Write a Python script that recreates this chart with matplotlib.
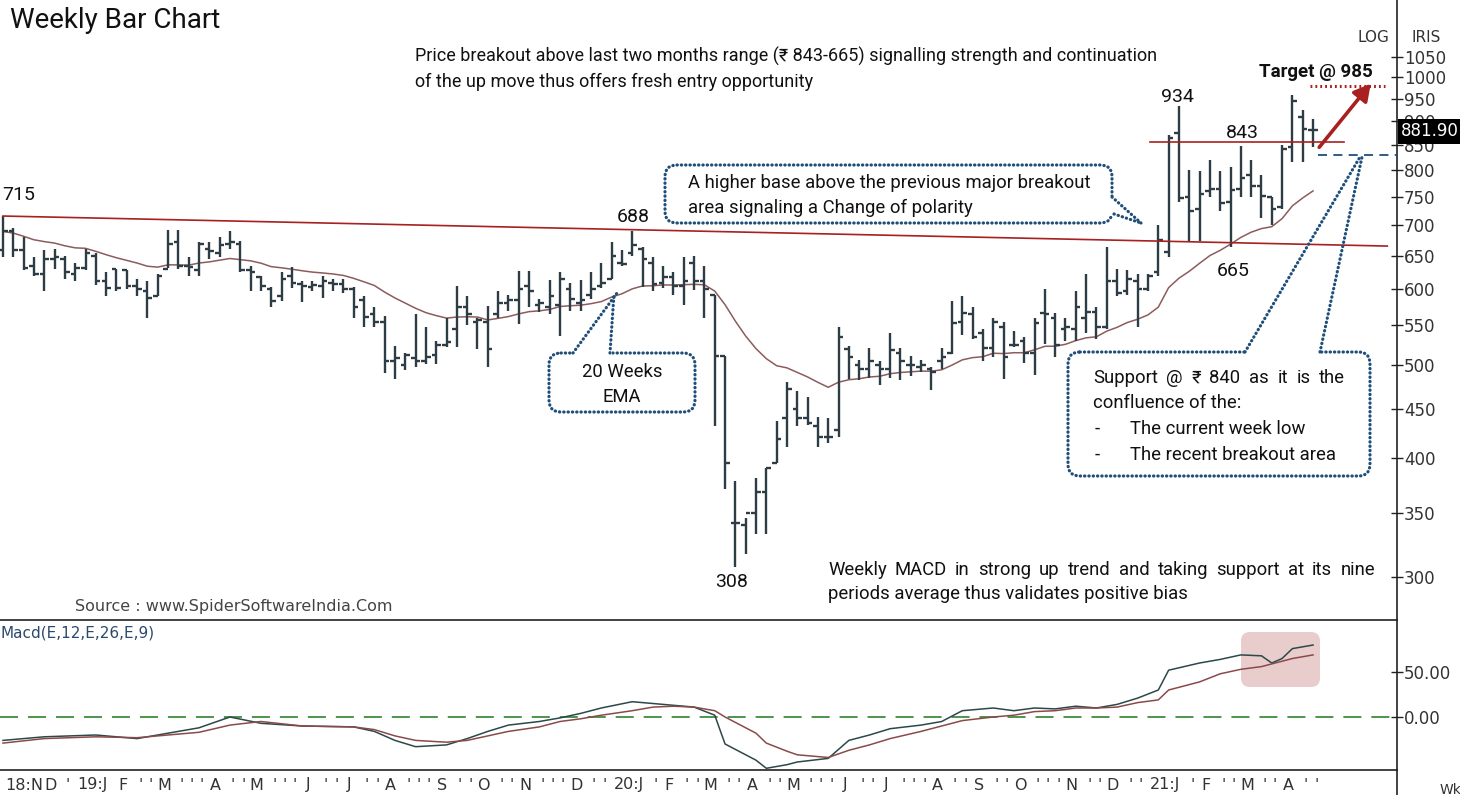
#!/usr/bin/env python3
"""Weekly bar chart with 20 week EMA and a MACD panel."""

import pandas as pd
import matplotlib
matplotlib.use("Agg")
from matplotlib import pyplot
from matplotlib.patches import FancyBboxPatch, FancyArrowPatch
from matplotlib.lines import Line2D
from matplotlib.transforms import Affine2D
from matplotlib.ticker import NullLocator

W, H = 1460, 795

# weekly OHLC, one entry per week (Nov 2018 .. Apr 2021)
HIGH = [716, 695, 680, 648, 660, 662, 650, 640, 662, 655, 625, 630, 628, 615, 612, 622,
        693, 693, 648, 672, 672, 680, 690, 675, 635, 620, 604, 625, 634, 612, 612, 620,
        615, 615, 604, 590, 575, 563, 524, 515, 565, 548, 530, 560, 605, 590, 560, 577,
        597, 592, 627, 627, 586, 613, 625, 610, 613, 625, 640, 672, 660, 690, 664, 648,
        635, 625, 648, 651, 635, 592, 511, 378, 346, 381, 390, 437, 480, 470, 463, 441,
        440, 548, 524, 506, 521, 505, 540, 521, 511, 506, 498, 521, 583, 590, 575, 545,
        560, 555, 543, 535, 560, 601, 567, 560, 597, 622, 575, 665, 630, 628, 622, 622,
        700, 870, 934, 800, 798, 820, 798, 805, 848, 820, 790, 750, 850, 958, 925, 905]
LOW = [648, 648, 628, 620, 597, 630, 615, 612, 628, 607, 590, 598, 600, 590, 560, 590,
       632, 630, 620, 620, 645, 648, 662, 625, 597, 597, 575, 583, 602, 582, 598, 588,
       598, 595, 560, 548, 548, 490, 483, 494, 498, 501, 501, 522, 522, 550, 520, 498,
       560, 570, 552, 575, 568, 566, 536, 570, 570, 586, 602, 615, 635, 650, 604, 597,
       602, 592, 578, 599, 560, 432, 371, 307, 317, 333, 333, 395, 410, 432, 433, 410,
       414, 420, 483, 482, 485, 477, 485, 482, 487, 492, 471, 495, 513, 537, 532, 505,
       510, 483, 522, 502, 488, 526, 510, 530, 530, 540, 532, 545, 590, 592, 548, 598,
       620, 648, 740, 672, 675, 750, 725, 665, 750, 750, 712, 700, 728, 815, 815, 845]
OPEN = [660, 690, 660, 635, 622, 645, 645, 622, 632, 650, 612, 630, 628, 605, 598, 590,
        630, 672, 635, 628, 662, 655, 670, 670, 628, 618, 600, 590, 620, 608, 604, 605,
        610, 608, 600, 585, 565, 555, 505, 500, 508, 505, 512, 525, 545, 575, 555, 555,
        565, 580, 585, 605, 578, 575, 578, 600, 580, 592, 605, 615, 640, 655, 662, 640,
        610, 618, 605, 640, 612, 592, 511, 342, 340, 350, 368, 395, 440, 450, 440, 432,
        420, 428, 520, 500, 495, 500, 495, 515, 500, 498, 495, 505, 515, 555, 565, 540,
        521, 548, 525, 530, 515, 567, 560, 545, 545, 560, 568, 548, 612, 598, 612, 600,
        625, 657, 875, 750, 728, 760, 765, 740, 765, 790, 770, 750, 732, 845, 910, 880]
CLOSE = [690, 660, 632, 622, 645, 648, 625, 632, 655, 612, 602, 602, 605, 600, 588, 620,
         670, 635, 633, 670, 658, 668, 672, 628, 625, 605, 583, 615, 610, 605, 606, 612,
         608, 600, 575, 562, 555, 505, 508, 512, 505, 510, 525, 528, 575, 565, 558, 520,
         580, 585, 600, 598, 580, 590, 615, 586, 585, 600, 610, 650, 638, 668, 645, 608,
         618, 605, 612, 612, 600, 511, 395, 342, 350, 368, 390, 418, 472, 440, 435, 420,
         420, 535, 510, 495, 505, 495, 518, 505, 500, 500, 492, 510, 553, 567, 535, 521,
         555, 510, 525, 515, 553, 565, 525, 548, 575, 568, 548, 612, 595, 615, 600, 620,
         676, 865, 748, 725, 755, 765, 738, 762, 785, 770, 752, 728, 842, 945, 882, 881.9]

# MACD(12,26,9) and its signal line, read at these weeks
MACD_WEEK = [0, 4, 9, 13, 19, 22, 25, 29, 34, 36, 38, 40, 43, 45, 47, 49, 52, 54, 56, 58,
             61, 63, 65, 67, 69, 70, 73, 74, 76, 77, 80, 82, 84, 86, 89, 91, 93, 96, 98, 100,
             102, 104, 106, 108, 110, 112, 113, 116, 118, 120, 122, 123, 124, 125, 127]
MACD = [-26, -22, -20, -24, -12, 0, -7, -10, -11, -16, -26, -33, -31, -24, -16, -9, -5, -1, 4, 10,
        17, 15, 13, 11, 2, -30, -48, -57, -53, -50, -46, -26, -20, -13, -9, -5, 7, 10, 7, 10,
        9, 12, 10, 14, 21, 30, 52, 60, 64, 69, 68, 60, 65, 76, 80]
SIGNAL = [-29, -24, -22, -23, -17, -9, -5, -10, -11, -14, -21, -26, -28, -26, -21, -16, -11, -5, -2, 2,
          7, 11, 12, 11, 7, 0, -18, -29, -38, -42, -45, -37, -31, -24, -16, -10, -4, 0, 2, 6,
          7, 10, 10, 11, 16, 19, 30, 39, 48, 53, 56, 59, 62, 65, 69]

PRICE_TICKS = [300, 350, 400, 450, 500, 550, 600, 650, 700, 750, 800, 850, 900, 950, 1000, 1050]
MACD_TICKS = [0, 50]

# first week of each month on the time axis
MONTH_WEEKS = [0, 3, 7, 11, 15, 20, 24, 29, 33, 37, 42, 46, 50, 55, 59, 64, 68, 72, 76, 81,
               85, 90, 94, 98, 103, 107, 111, 116, 120, 124]
MONTH_LABELS = ["18:N", "D", "19:J", "F", "M", "A", "M", "J", "J", "A", "S", "O", "N", "D",
                "20:J", "F", "M", "A", "M", "J", "J", "A", "S", "O", "N", "D", "21:J", "F", "M", "A"]

# drawn levels
TREND_WEEKS = [0, 134.2]
TREND_PRICE = [716, 666]
RESIST_WEEKS = [111.2, 130]
RESIST_PRICE = 855
TARGET_WEEKS = [126.7, 134]
TARGET_PRICE = 980
SUPPORT_WEEKS = [127.5, 135.2]
SUPPORT_PRICE = 830
ARROW_WEEKS = [127.6, 132.6]
ARROW_PRICE = [845, 985]

BAR = "#2e3d45"
RED = "#a8201f"
BLUE = "#1f4e79"
NOTE_FONT = ["Liberation Sans Narrow", "Roboto", "DejaVu Sans"]
AXIS_FONT = ["DejaVu Sans"]
NOTE_SIZE = 13.3

# pixel coordinates, origin at the top left of the picture
PX = Affine2D().scale(1, -1).translate(0, H)


def note(fig, x, y, s, size=NOTE_SIZE, **kw):
    kw.setdefault("color", "#111111")
    kw.setdefault("family", NOTE_FONT)
    kw.setdefault("va", "center")
    kw.setdefault("zorder", 6)
    return fig.text(x, y, s, transform=PX, fontsize=size, **kw)


def justified(fig, renderer, x0, x1, y, s, size=NOTE_SIZE):
    """Spread the words of `s` so the line runs from x0 to x1."""
    texts = [note(fig, 0, y, w, size=size, ha="left") for w in s.split()]
    widths = [t.get_window_extent(renderer).width for t in texts]
    gap = (x1 - x0 - sum(widths)) / (len(texts) - 1)
    x = x0
    for t, w in zip(texts, widths):
        t.set_x(x)
        x += w + gap


def dotted(fig, xs, ys):
    fig.add_artist(Line2D(xs, ys, transform=PX, color=BLUE, lw=2.3,
                          linestyle=(0, (0.1, 1.25)), dash_capstyle="round", zorder=5))


def callout(fig, x0, y0, x1, y1, gap, tails):
    box = FancyBboxPatch((x0, y0), x1 - x0, y1 - y0, boxstyle="round,pad=0,rounding_size=12",
                         transform=PX, fc="white", ec=BLUE, lw=2.3,
                         linestyle=(0, (0.1, 1.25)), capstyle="round", zorder=3)
    fig.add_artist(box)
    (gx0, gy0), (gx1, gy1) = gap
    fig.add_artist(Line2D([gx0, gx1], [gy0, gy1], transform=PX, color="white", lw=5, zorder=4))
    for (ax_, ay), (bx, by) in tails:
        dotted(fig, [ax_, bx], [ay, by])


def week_axis(fig, axm, renderer, weeks):
    """Month letters under the MACD panel, a small mark for the other weeks."""
    xt = axm.get_xaxis_transform()
    spans = []
    right = -1e9
    for wk, lbl in zip(MONTH_WEEKS, MONTH_LABELS):
        if ":" in lbl:
            t = axm.text(wk + 0.2, -0.1, lbl, transform=xt, ha="left", va="center",
                         fontsize=11.5, family=AXIS_FONT, color="#333333")
        else:
            t = axm.text(wk + 0.6, -0.1, lbl, transform=xt, ha="center", va="center",
                         fontsize=11.5, family=AXIS_FONT, color="#333333")
        bb = t.get_window_extent(renderer)
        if bb.x0 < right + 1:
            t.set_x(t.get_position()[0] + (right + 1 - bb.x0) / 10.315)
            bb = t.get_window_extent(renderer)
        spans.append((bb.x0 - 3, bb.x1 + 3))
        right = bb.x1
    label_weeks = set(MONTH_WEEKS)
    for wk in weeks:
        if wk in label_weeks or wk - 1 in label_weeks:
            continue
        t = axm.text(wk + 0.3, -0.1, "'", transform=xt, ha="center", va="center",
                     fontsize=11, family=AXIS_FONT, color="#333333")
        bb = t.get_window_extent(renderer)
        cx = (bb.x0 + bb.x1) / 2
        if any(a <= cx <= b for a, b in spans):
            t.remove()


def main():
    fig = pyplot.figure(figsize=(W / 100, H / 100), dpi=100)
    fig.patch.set_facecolor("white")
    renderer = fig.canvas.get_renderer()

    ax = fig.add_axes([0, 1 - 620 / H, 1397 / W, 620 / H])
    axm = fig.add_axes([0, 1 - 770 / H, 1397 / W, 150 / H], sharex=ax)

    weeks = list(range(len(CLOSE)))
    ema = pd.Series(CLOSE).ewm(span=20, adjust=False).mean()

    # price bars
    ax.vlines(weeks, LOW, HIGH, color=BAR, lw=1.7, zorder=3)
    ax.hlines(OPEN, [w - 0.45 for w in weeks], weeks, color=BAR, lw=1.7, zorder=3)
    ax.hlines(CLOSE, weeks, [w + 0.45 for w in weeks], color=BAR, lw=1.7, zorder=3)
    ax.plot(weeks, ema, color="#8c5c5c", lw=1.1, zorder=2)

    # levels
    ax.plot(TREND_WEEKS, TREND_PRICE, color=RED, lw=1.2, zorder=4)
    ax.plot(RESIST_WEEKS, [RESIST_PRICE] * 2, color=RED, lw=1.2, zorder=4)
    ax.plot(TARGET_WEEKS, [TARGET_PRICE] * 2, color=RED, lw=2.2,
            linestyle=(0, (0.6, 1.0)), zorder=4)
    ax.plot(SUPPORT_WEEKS, [SUPPORT_PRICE] * 2, color=BLUE, lw=1.3,
            linestyle=(0, (5, 3.5)), zorder=4, clip_on=False)
    ax.add_patch(FancyArrowPatch((ARROW_WEEKS[0], ARROW_PRICE[0]), (ARROW_WEEKS[1], ARROW_PRICE[1]),
                                 arrowstyle="-|>,head_length=10,head_width=5.5", color=RED,
                                 lw=2.6, shrinkA=0, shrinkB=0, zorder=5))

    ax.set_yscale("log")
    ax.set_ylim(270.5, 1205)
    ax.set_xlim(-0.29, 135.14)
    ax.set_yticks(PRICE_TICKS)
    ax.set_yticklabels([str(t) for t in PRICE_TICKS], family=AXIS_FONT)
    ax.yaxis.set_minor_locator(NullLocator())
    ax.yaxis.tick_right()
    ax.tick_params(axis="y", direction="inout", length=8, width=1, color="#222222",
                   labelcolor="#333333", labelsize=12, pad=1)
    ax.tick_params(axis="x", bottom=False, labelbottom=False)
    for side in ("left", "top", "bottom"):
        ax.spines[side].set_visible(False)
    ax.spines["right"].set_color("#222222")
    ax.spines["right"].set_linewidth(1.2)

    # MACD panel
    axm.plot(MACD_WEEK, MACD, color="#2c4848", lw=1.1, zorder=3)
    axm.plot(MACD_WEEK, SIGNAL, color="#8b4a4a", lw=1.1, zorder=3)
    axm.axhline(0, color="#3e8e3e", lw=1.3, dashes=(10, 5.5), zorder=2)
    axm.add_patch(FancyBboxPatch((1241, 632), 79, 55, boxstyle="round,pad=0,rounding_size=9",
                                 transform=PX, fc="#d8a4a4", alpha=0.55, ec="none",
                                 zorder=1, clip_on=False))
    axm.set_ylim(-58.9, 107.8)
    axm.set_yticks(MACD_TICKS)
    axm.set_yticklabels(["%.2f" % t for t in MACD_TICKS], family=AXIS_FONT)
    axm.yaxis.tick_right()
    axm.tick_params(axis="y", direction="inout", length=8, width=1, color="#222222",
                    labelcolor="#333333", labelsize=12, pad=1)
    axm.tick_params(axis="x", bottom=False, labelbottom=False)
    axm.spines["left"].set_visible(False)
    for side in ("top", "bottom", "right"):
        axm.spines[side].set_color("#222222")
        axm.spines[side].set_linewidth(1.2)

    week_axis(fig, axm, renderer, weeks)
    fig.add_artist(Line2D([1397, 1397], [770, 795], transform=PX, color="#222222", lw=1.2))

    # axis side texts
    note(fig, 1373, 38, "LOG", size=11, family=AXIS_FONT, color="#333333", ha="center")
    note(fig, 1426, 38, "IRIS", size=11, family=AXIS_FONT, color="#333333", ha="center")
    note(fig, 1401, 131, "881.90", size=12, family=AXIS_FONT, color="white", ha="left",
         bbox=dict(facecolor="black", edgecolor="none", pad=2.5))
    note(fig, 1440, 790, "Wk", size=10, family=AXIS_FONT, color="#333333", ha="left")
    note(fig, 75, 607, "Source : www.SpiderSoftwareIndia.Com", size=11.5, family=AXIS_FONT,
         color="#444444", ha="left")
    note(fig, 0, 633, "Macd(E,12,E,26,E,9)", size=11, family=AXIS_FONT, color="#2b4a6b", ha="left")

    # commentary
    note(fig, 10, 21, "Weekly Bar Chart", size=20, ha="left")
    note(fig, 415, 56, "Price breakout above last two months range (\u20b9 843-665) signalling "
         "strength and continuation", size=13, ha="left")
    note(fig, 415, 82, "of the up move thus offers fresh entry opportunity", size=13, ha="left")
    justified(fig, renderer, 828, 1375, 570,
              "Weekly MACD in strong up trend and taking support at its nine")
    note(fig, 828, 594, "periods average thus validates positive bias", ha="left")
    note(fig, 1259, 72, "Target @ 985", size=13.5, weight="bold", ha="left")

    for x, y, s in [(19, 195, "715"), (633, 217, "688"), (1177, 97, "934"),
                    (1242, 133, "843"), (1233, 271, "665"), (732, 582, "308")]:
        note(fig, x, y, s, size=14, ha="center")

    callout(fig, 665, 165, 1112, 223, ((1112, 199), (1112, 212)),
            [((1112, 197), (1141, 223)), ((1114, 214), (1141, 223))])
    note(fig, 688, 183, "A higher base above the previous major breakout", ha="left")
    note(fig, 688, 208, "area signaling a Change of polarity", ha="left")

    callout(fig, 549, 353, 695, 412, ((576, 353), (608, 353)),
            [((573, 353), (617, 293)), ((610, 353), (614, 294))])
    note(fig, 622, 372, "20 Weeks", ha="center")
    note(fig, 622, 397, "EMA", ha="center")

    callout(fig, 1068, 352, 1370, 476, ((1248, 352), (1317, 352)),
            [((1245, 352), (1360, 157)), ((1320, 352), (1362, 157))])
    justified(fig, renderer, 1093, 1345, 378, "Support @ \u20b9 840 as it is the")
    note(fig, 1093, 403, "confluence of the:", ha="left")
    for y, s in [(429, "The current week low"), (455, "The recent breakout area")]:
        note(fig, 1095, y, "-", ha="left")
        note(fig, 1130, y, s, ha="left")

    fig.savefig("out.png", dpi=100)


if __name__ == "__main__":
    main()
